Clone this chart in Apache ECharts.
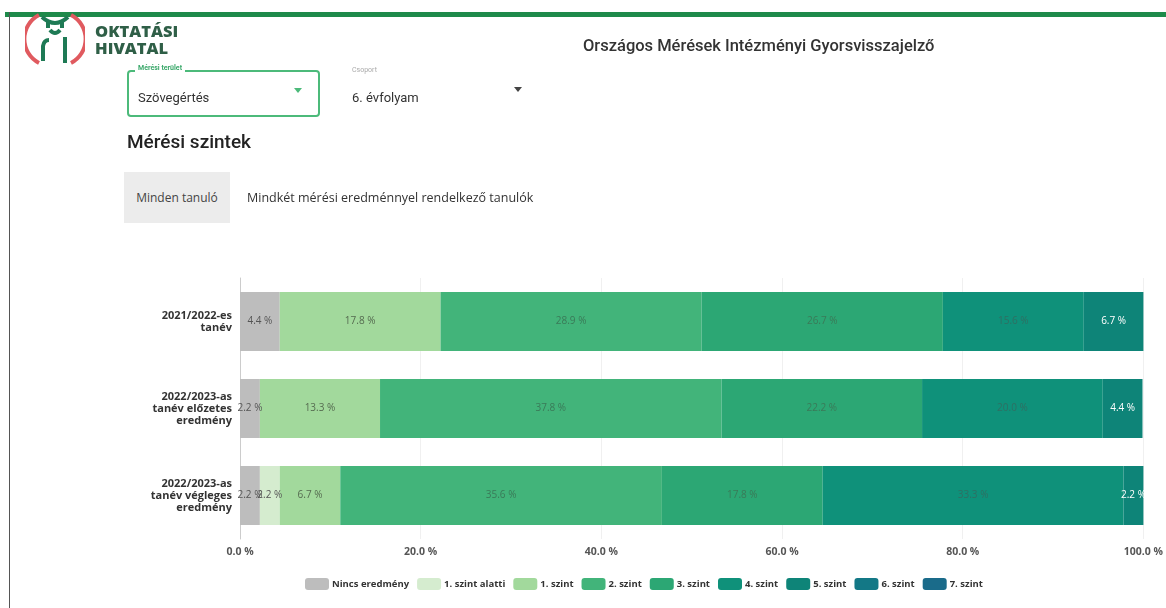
<!DOCTYPE html>
<html>
<head>
<meta charset="utf-8">
<script src="https://cdn.jsdelivr.net/npm/echarts@6/dist/echarts.min.js"></script>
<style>
  html, body { margin: 0; padding: 0; background: #fff; }
  body { width: 1166px; height: 608px; position: relative; overflow: hidden; font-family: Roboto, "Noto Sans", sans-serif; color: #333; }
  #chart { position: absolute; left: 0; top: 0; width: 1166px; height: 608px; }
  .abs { position: absolute; }
  .topbar { left: 5px; top: 12px; width: 1161px; height: 5px; background: #1e8a4a; }
  .leftline { left: 9px; top: 12px; width: 1px; height: 596px; background: #555; }
  .brand { left: 95px; top: 22px; font-family: "Open Sans", sans-serif; font-weight: 800; font-size: 16.5px; line-height: 17px; color: #2f5f47; }
  .title { left: 583px; top: 36px; font-size: 16.5px; font-weight: 500; color: #333; }
  .sel1 { left: 127px; top: 70px; width: 189px; height: 43px; border: 2px solid #4cba7a; border-radius: 4px; }
  .lab1 { left: 135px; top: 64px; font-size: 7px; font-weight: bold; color: #3aa86a; background: #fff; padding: 0 3px; }
  .val { font-size: 13px; color: #333; }
  .lab2 { left: 352px; top: 66px; font-size: 7px; color: #aaa; }
  .h2 { left: 127px; top: 130px; font-size: 19px; font-weight: 500; color: #222; }
  .btn { left: 124px; top: 172px; width: 106px; height: 51px; background: #ececec; font-size: 12px; line-height: 51px; text-align: center; color: #444; font-family: "Open Sans", sans-serif; }
  .opt { left: 247px; top: 189px; font-size: 12.5px; color: #333; font-family: "Open Sans", sans-serif; }
</style>
</head>
<body>
<div id="chart"></div>
<div class="abs topbar"></div>
<div class="abs leftline"></div>
<svg class="abs" style="left:25px;top:9px" width="60" height="60" viewBox="0 0 60 60">
  <path d="M14 54 A27 27 0 0 1 14 6" stroke="#e05a5f" stroke-width="4" fill="none"/>
  <path d="M46 54 A27 27 0 0 0 46 6" stroke="#e05a5f" stroke-width="4" fill="none"/>
  <path d="M17 8 Q30 20 43 8 M23 12 L23 19 M37 12 L37 19 M25 21 Q30 27 35 21" stroke="#1e7a55" stroke-width="4" fill="none"/>
  <path d="M18 52 L18 37 Q19 31 24 31 M40 54 L40 28" stroke="#1e7a55" stroke-width="4" fill="none"/>
</svg>
<div class="abs brand">OKTATÁSI<br>HIVATAL</div>
<div class="abs title">Országos Mérések Intézményi Gyorsvisszajelző</div>
<div class="abs sel1"></div>
<div class="abs lab1">Mérési terület</div>
<div class="abs val" style="left:138px;top:90px">Szövegértés</div>
<svg class="abs" style="left:294px;top:88px" width="8" height="6"><path d="M0 0 L8 0 L4 5 Z" fill="#4cba7a"/></svg>
<div class="abs lab2">Csoport</div>
<div class="abs val" style="left:352px;top:90px">6. évfolyam</div>
<svg class="abs" style="left:514px;top:87px" width="8" height="6"><path d="M0 0 L8 0 L4 5 Z" fill="#444"/></svg>
<div class="abs h2">Mérési szintek</div>
<div class="abs btn">Minden tanuló</div>
<div class="abs opt">Mindkét mérési eredménnyel rendelkező tanulók</div>
<script>
// tanévek (kategóriák)
const categories = ['2021/2022-es\ntanév', '2022/2023-as\ntanév előzetes\neredmény', '2022/2023-as\ntanév végleges\neredmény'];
const seriesNames = ['Nincs eredmény', '1. szint alatti', '1. szint', '2. szint', '3. szint', '4. szint', '5. szint', '6. szint', '7. szint'];

// százalékok szintenként
const nincs = [4.4, 2.2, 2.2];
const szintAlatti = [0, 0, 2.2];
const szint1 = [17.8, 13.3, 6.7];
const szint2 = [28.9, 37.8, 35.6];
const szint3 = [26.7, 22.2, 17.8];
const szint4 = [15.6, 20.0, 33.3];
const szint5 = [6.7, 4.4, 2.2];
const szint6 = [0, 0, 0];
const szint7 = [0, 0, 0];
const xTicks = [0, 20, 40, 60, 80, 100];

const values = [nincs, szintAlatti, szint1, szint2, szint3, szint4, szint5, szint6, szint7];
const colors = ['#bdbdbd', '#d5eccf', '#a2d99c', '#42b47a', '#2ca774', '#0f917a', '#0e8478', '#137886', '#1a6b8a'];
const labelColors = ['#555', '#555', '#556b50', '#3a7a58', '#3a7a58', '#2f6f63', '#ffffff', '#ffffff', '#ffffff'];

const chart = echarts.init(document.getElementById('chart'));

const option = {
    color: colors,
    animation: false,
    grid: { left: 240, right: 21, top: 278, bottom: 69 },
    legend: {
        data: seriesNames,
        left: 300,
        top: 573,
        itemWidth: 24,
        itemHeight: 12,
        itemGap: 8,
        icon: 'roundRect',
        textStyle: { fontSize: 9.5, fontWeight: 'bold', color: '#333', padding: [0, 0, 0, -2], fontFamily: '"Open Sans", sans-serif' }
    },
    xAxis: {
        type: 'value',
        min: xTicks[0],
        max: xTicks[xTicks.length - 1],
        interval: 20,
        axisLine: { show: false },
        axisTick: { show: false },
        splitLine: { lineStyle: { color: '#f0f0f0' } },
        axisLabel: {
            margin: 8,
            fontSize: 10.5,
            fontWeight: 'bold',
            color: '#555',
            fontFamily: '"Open Sans", sans-serif',
            formatter: function (v) { return v.toFixed(1) + ' %'; }
        }
    },
    yAxis: {
        type: 'category',
        inverse: true,
        data: categories,
        axisLine: { lineStyle: { color: '#ccc' } },
        axisTick: { lineStyle: { color: '#ccc' }, length: 4 },
        axisLabel: {
            fontSize: 11,
            fontWeight: 'bold',
            color: '#333',
            lineHeight: 12,
            align: 'right',
            margin: 8,
            fontFamily: '"Open Sans", sans-serif'
        }
    },
    series: seriesNames.map(function (name, i) {
        return {
            name: name,
            type: 'bar',
            stack: 'total',
            barWidth: 59,
            data: values[i],
            label: {
                show: true,
                position: 'inside',
                fontSize: 10,
                color: labelColors[i],
                fontFamily: '"Open Sans", sans-serif',
                formatter: function (p) { return p.value ? p.value.toFixed(1) + ' %' : ''; }
            }
        };
    })
};

chart.setOption(option);
</script>
</body>
</html>
